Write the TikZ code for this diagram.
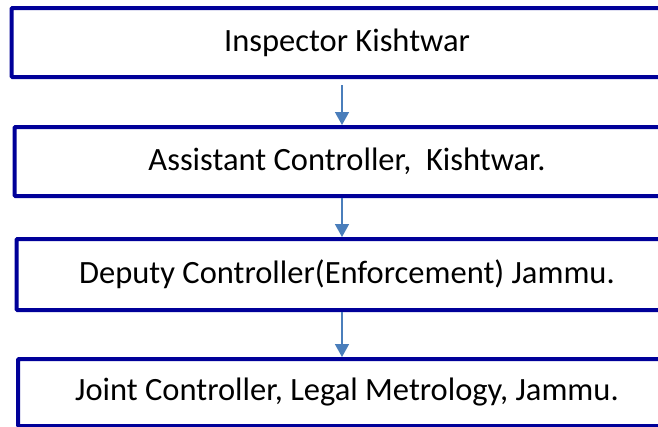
\documentclass[tikz,border=0pt]{standalone}
\usepackage{fontspec}
\setmainfont{Carlito}
\usetikzlibrary{arrows.meta}

\definecolor{boxblue}{RGB}{0,0,153}
\definecolor{arrowblue}{RGB}{74,126,187}

\begin{document}
\begin{tikzpicture}[x=1pt, y=-1pt,
    post/.style={draw=boxblue, line width=4pt, rounded corners=1pt,
      inner sep=0pt, font=\fontsize{32.5}{38}\selectfont},
    flow/.style={draw=arrowblue, line width=1.5pt,
      -{Triangle[width=14pt,length=13pt]}}]

    \useasboundingbox (0,0) rectangle (658,426);
    \clip (0,0) rectangle (658,426);
    \fill[white] (0,0) rectangle (658,426);

    \node[post, minimum width=671pt, minimum height=69pt] (insp) at (347, 42.5) {Inspector Kishtwar};
    \node[post, minimum width=665pt, minimum height=69pt] (asst) at (347, 161.5) {Assistant Controller,\ \ Kishtwar.};
    \node[post, minimum width=661pt, minimum height=71pt] (dep) at (347, 274.5) {Deputy Controller(Enforcement) Jammu.};
    \node[post, minimum width=658pt, minimum height=67pt] (joint) at (347, 392.5) {Joint Controller, Legal Metrology, Jammu.};

    \coordinate (axis) at (342, 0);

    \draw [flow, shorten <=6pt] (insp.south -| axis) to (asst.north -| axis);
    \draw [flow] (asst.south -| axis) to (dep.north -| axis);
    \draw [flow] (dep.south -| axis) to (joint.north -| axis);

  \end{tikzpicture}
\end{document}
